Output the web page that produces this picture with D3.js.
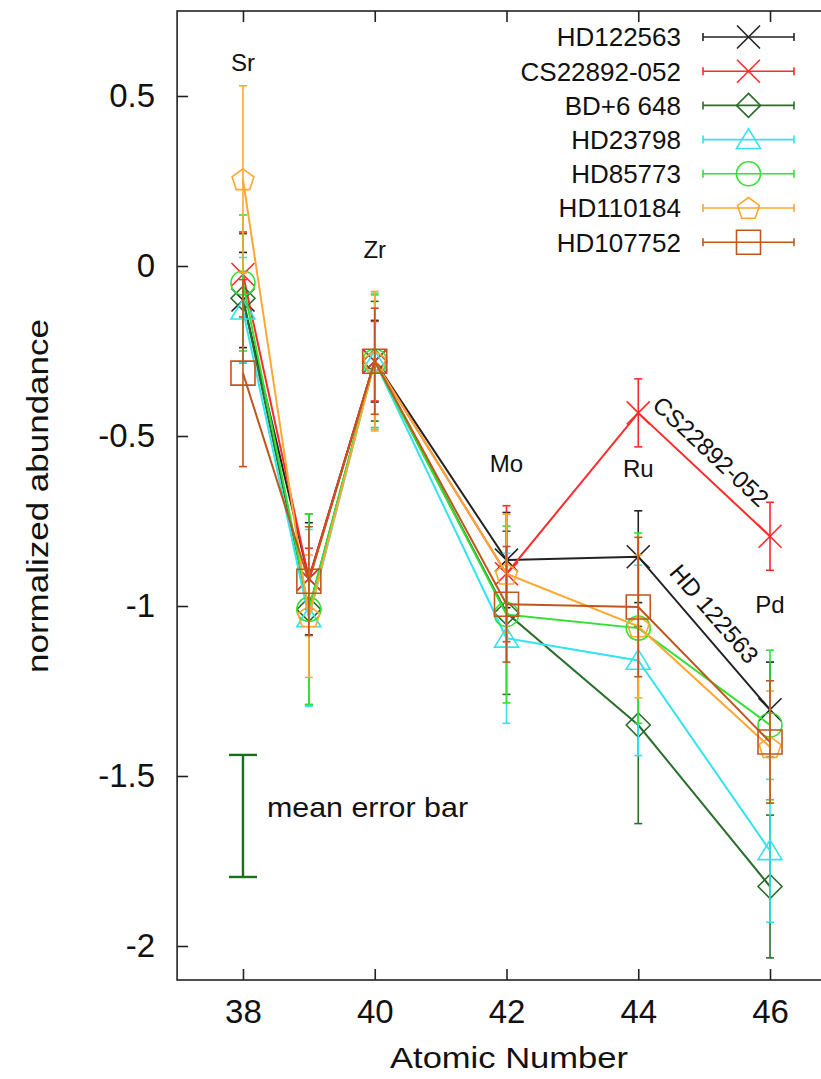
<!DOCTYPE html>
<html>
<head>
<meta charset="utf-8">
<script src="https://cdn.jsdelivr.net/npm/d3@7"></script>
<style>
  html, body { margin: 0; padding: 0; background: #fff; }
  svg { display: block; font-family: "Liberation Sans", Arial, sans-serif; }
</style>
</head>
<body>
<svg id="chart" width="821" height="1079"></svg>
<script>
// Atomic numbers of the plotted elements and their symbols
const atomicNumbers = [38, 39, 40, 42, 44, 46];
const elementLabels = [
  { z: 38, sym: "Sr", y: 0.575 },
  { z: 40, sym: "Zr", y: 0.023 },
  { z: 42, sym: "Mo", y: -0.605 },
  { z: 44, sym: "Ru", y: -0.62 },
  { z: 46, sym: "Pd", y: -1.02 }
];

// Star names (legend order)
const starNames = ["HD122563", "CS22892-052", "BD+6 648", "HD23798", "HD85773", "HD110184", "HD107752"];
const starColors = ["#222222", "#ff2a2a", "#2b6e2b", "#33e3ee", "#33e033", "#ffa733", "#c0561e"];
const starMarkers = ["x", "x", "diamond", "triangle", "circle", "pentagon", "square"];

// Normalized abundances per star, in the order Sr, Y, Zr, Mo, Ru, Pd
const valuesHD122563 = [-0.100, -0.920, -0.280, -0.865, -0.855, -1.305];
const valuesCS22892  = [-0.025, -0.920, -0.280, -0.905, -0.432, -0.795];
const valuesBD6648   = [-0.095, -1.010, -0.280, -1.020, -1.350, -1.825];
const valuesHD23798  = [-0.130, -1.035, -0.280, -1.095, -1.160, -1.720];
const valuesHD85773  = [-0.050, -1.010, -0.280, -1.025, -1.065, -1.350];
const valuesHD110184 = [ 0.255, -1.030, -0.280, -0.905, -1.060, -1.415];
const valuesHD107752 = [-0.315, -0.927, -0.280, -0.995, -1.003, -1.400];

// Symmetric uncertainties, same element order
const errorsHD122563 = [0.140, 0.165, 0.120, 0.140, 0.135, 0.140];
const errorsCS22892  = [0.125, 0.090, 0.117, 0.200, 0.100, 0.100];
const errorsBD6648   = [0.190, 0.280, 0.176, 0.240, 0.290, 0.210];
const errorsHD23798  = [0.155, 0.260, 0.200, 0.250, 0.280, 0.210];
const errorsHD85773  = [0.200, 0.280, 0.195, 0.260, 0.280, 0.220];
const errorsHD110184 = [0.275, 0.180, 0.205, 0.175, 0.210, 0.165];
const errorsHD107752 = [0.275, 0.160, 0.156, 0.170, 0.205, 0.180];

const allValues = [valuesHD122563, valuesCS22892, valuesBD6648, valuesHD23798, valuesHD85773, valuesHD110184, valuesHD107752];
const allErrors = [errorsHD122563, errorsCS22892, errorsBD6648, errorsHD23798, errorsHD85773, errorsHD110184, errorsHD107752];

// Mean error bar drawn at Z = 38
const meanErrorBar = { z: 38, low: -1.797, high: -1.438 };

const xTicks = [38, 40, 42, 44, 46];
const yTicks = [0.5, 0, -0.5, -1, -1.5, -2];

const svg = d3.select("#chart");
const plot = { left: 177.1, right: 835.9, top: 11, bottom: 980 };

const x = d3.scaleLinear().domain([37, 47]).range([plot.left, plot.right]);
const y = d3.scaleLinear().domain([-2.1, 0.75]).range([plot.bottom, plot.top]);

// Axes with inward ticks
const tickFont = "33px";
const xAxis = svg.append("g")
  .attr("transform", `translate(0,${plot.bottom})`)
  .call(d3.axisBottom(x).tickValues(xTicks).tickSize(-11).tickPadding(20).tickFormat(d => String(d)));
const xAxisTop = svg.append("g")
  .attr("transform", `translate(0,${plot.top})`)
  .call(d3.axisTop(x).tickValues(xTicks).tickSize(-11).tickFormat(""));
const yAxis = svg.append("g")
  .attr("transform", `translate(${plot.left},0)`)
  .call(d3.axisLeft(y).tickValues(yTicks).tickSize(-11).tickPadding(22).tickFormat(d => String(d)));

[xAxis, xAxisTop, yAxis].forEach(g => {
  g.select(".domain").remove();
  g.selectAll(".tick line").attr("stroke", "#222").attr("stroke-width", 1.6);
  g.selectAll("text").attr("fill", "#111").style("font-size", tickFont).style("font-family", "Liberation Sans, Arial, sans-serif");
});

// Frame
svg.append("rect")
  .attr("x", plot.left).attr("y", plot.top)
  .attr("width", plot.right - plot.left).attr("height", plot.bottom - plot.top)
  .attr("fill", "none").attr("stroke", "#222").attr("stroke-width", 1.6);

// Axis titles
svg.append("text")
  .attr("x", 509).attr("y", 1068)
  .attr("text-anchor", "middle")
  .attr("textLength", 238).attr("lengthAdjust", "spacingAndGlyphs")
  .style("font-size", "30px").attr("fill", "#111")
  .text("Atomic Number");

svg.append("text")
  .attr("transform", "translate(48,496) rotate(-90)")
  .attr("text-anchor", "middle")
  .attr("textLength", 354).attr("lengthAdjust", "spacingAndGlyphs")
  .style("font-size", "29px").attr("fill", "#111")
  .text("normalized abundance");

// Element symbols
svg.append("g").selectAll("text")
  .data(elementLabels)
  .join("text")
  .attr("x", d => x(d.z))
  .attr("y", d => y(d.y))
  .attr("text-anchor", "middle")
  .style("font-size", "24px").attr("fill", "#111")
  .text(d => d.sym);

// Marker path generator, centred on 0,0
function markerPath(type, s) {
  const h = s / 2;
  switch (type) {
    case "x":
      return `M${-h},${-h}L${h},${h}M${-h},${h}L${h},${-h}`;
    case "diamond":
      return `M0,${-h}L${h},0L0,${h}L${-h},0Z`;
    case "triangle": {
      const th = s * 0.82;
      return `M0,${-th * 0.55}L${h},${th * 0.45}L${-h},${th * 0.45}Z`;
    }
    case "square":
      return `M${-h},${-h}H${h}V${h}H${-h}Z`;
    case "pentagon": {
      const r = s * 0.5;
      const pts = d3.range(5).map(i => {
        const a = -Math.PI / 2 + i * 2 * Math.PI / 5;
        return [r * Math.cos(a), r * Math.sin(a) + 1];
      });
      return "M" + pts.map(p => p.join(",")).join("L") + "Z";
    }
    case "circle":
      return `M${h},0A${h},${h} 0 1,1 ${-h},0A${h},${h} 0 1,1 ${h},0Z`;
  }
}
const markerSize = { x: 23, diamond: 24, triangle: 24, square: 24, pentagon: 23, circle: 24 };

const capHalf = 4;
const line = d3.line().x(d => x(d.z)).y(d => y(d.v));

// Series: lines, error bars and markers
starNames.forEach((name, i) => {
  const color = starColors[i];
  const pts = atomicNumbers.map((z, j) => ({ z, v: allValues[i][j], e: allErrors[i][j] }));
  const g = svg.append("g").attr("class", "series");

  g.append("path")
    .datum(pts)
    .attr("d", line)
    .attr("fill", "none")
    .attr("stroke", color)
    .attr("stroke-width", 2);

  const eb = g.append("g").selectAll("g").data(pts).join("g");
  eb.append("line")
    .attr("x1", d => x(d.z)).attr("x2", d => x(d.z))
    .attr("y1", d => y(d.v + d.e)).attr("y2", d => y(d.v - d.e))
    .attr("stroke", color).attr("stroke-width", 1.6);
  eb.append("line")
    .attr("x1", d => x(d.z) - capHalf).attr("x2", d => x(d.z) + capHalf)
    .attr("y1", d => y(d.v + d.e)).attr("y2", d => y(d.v + d.e))
    .attr("stroke", color).attr("stroke-width", 1.6);
  eb.append("line")
    .attr("x1", d => x(d.z) - capHalf).attr("x2", d => x(d.z) + capHalf)
    .attr("y1", d => y(d.v - d.e)).attr("y2", d => y(d.v - d.e))
    .attr("stroke", color).attr("stroke-width", 1.6);

  g.append("g").selectAll("path").data(pts).join("path")
    .attr("transform", d => `translate(${x(d.z)},${y(d.v)})`)
    .attr("d", markerPath(starMarkers[i], markerSize[starMarkers[i]]))
    .attr("fill", "none")
    .attr("stroke", color)
    .attr("stroke-width", 1.6);
});

// Legend
const legend = svg.append("g");
const legTop = 37, legStep = 34.2;
const legTextX = 681, legLineX1 = 703, legLineX2 = 794;
starNames.forEach((name, i) => {
  const cy = legTop + i * legStep;
  const color = starColors[i];
  legend.append("text")
    .attr("x", legTextX).attr("y", cy)
    .attr("dy", "0.36em")
    .attr("text-anchor", "end")
    .style("font-size", "26px").attr("fill", "#111")
    .text(name);
  legend.append("line")
    .attr("x1", legLineX1).attr("x2", legLineX2).attr("y1", cy).attr("y2", cy)
    .attr("stroke", color).attr("stroke-width", 1.6);
  [legLineX1, legLineX2].forEach(cx => {
    legend.append("line")
      .attr("x1", cx).attr("x2", cx).attr("y1", cy - capHalf).attr("y2", cy + capHalf)
      .attr("stroke", color).attr("stroke-width", 1.6);
  });
  legend.append("path")
    .attr("transform", `translate(${(legLineX1 + legLineX2) / 2},${cy})`)
    .attr("d", markerPath(starMarkers[i], markerSize[starMarkers[i]]))
    .attr("fill", "none").attr("stroke", color).attr("stroke-width", 1.6);
});

// Labels along the CS22892-052 and HD 122563 curves between Ru and Pd
function segmentLabel(text, values, frac, offset) {
  const p1 = [x(44), y(values[4])];
  const p2 = [x(46), y(values[5])];
  const ang = Math.atan2(p2[1] - p1[1], p2[0] - p1[0]);
  const mx = p1[0] + (p2[0] - p1[0]) * frac + Math.sin(ang) * offset;
  const my = p1[1] + (p2[1] - p1[1]) * frac - Math.cos(ang) * offset;
  svg.append("text")
    .attr("transform", `translate(${mx},${my}) rotate(${ang * 180 / Math.PI})`)
    .attr("text-anchor", "middle")
    .style("font-size", "24px").attr("fill", "#111")
    .text(text);
}
segmentLabel("CS22892-052", valuesCS22892, 0.44, 13);
segmentLabel("HD 122563", valuesHD122563, 0.46, 12);

// Mean error bar
const meg = svg.append("g");
const mx = x(meanErrorBar.z);
meg.append("line")
  .attr("x1", mx).attr("x2", mx).attr("y1", y(meanErrorBar.high)).attr("y2", y(meanErrorBar.low))
  .attr("stroke", "#1a701a").attr("stroke-width", 2.4);
[meanErrorBar.high, meanErrorBar.low].forEach(v => {
  meg.append("line")
    .attr("x1", mx - 14).attr("x2", mx + 14).attr("y1", y(v)).attr("y2", y(v))
    .attr("stroke", "#1a701a").attr("stroke-width", 2.4);
});
meg.append("text")
  .attr("x", 267).attr("y", 817)
  .attr("textLength", 201).attr("lengthAdjust", "spacingAndGlyphs")
  .style("font-size", "28px").attr("fill", "#111")
  .text("mean error bar");
</script>
</body>
</html>
